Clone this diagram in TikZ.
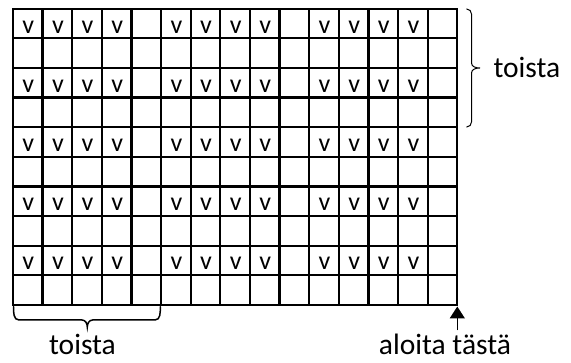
\documentclass[tikz,border=0pt]{standalone}
\usepackage{fontspec}
\setmainfont{Carlito}
\usetikzlibrary{arrows.meta}

\begin{document}
\begin{tikzpicture}[x=1pt,y=-1pt,
  gridline/.style={line width=2.3pt},
  vcell/.style={anchor=base,inner sep=0pt,font=\fontsize{26}{26}\selectfont},
  lbl/.style={anchor=base,font=\fontsize{29.5}{30}\selectfont},
  bracket/.style={line width=1.5pt,line cap=round}]
  \useasboundingbox (0,0) rectangle (571,363);
  \def\cw{29.62}
  % ruudukko 15 x 10
  \draw[gridline] (13,8.7) rectangle (457.3,305);
  \foreach \i in {1,...,14}
    \draw[gridline] (13+\i*\cw,8.7) -- (13+\i*\cw,305);
  \foreach \j in {1,...,9}
    \draw[gridline] (13,8.7+\j*\cw) -- (457.3,8.7+\j*\cw);
  % silmukat
  \foreach \r in {0,2,...,8}
    \foreach \c in {0,1,2,3,5,6,7,8,10,11,12,13}
      \node[vcell] (v\r-\c) at (13.5+\c*\cw+\cw/2, 8.7+\r*\cw+\cw/2+9.5) {v};
  % sulkeet
  \draw[bracket,line width=1pt] (466.7,9) to[out=0,in=90] (471.5,14) -- (471.5,63)
    to[out=-90,in=180] (480,68) to[out=180,in=90] (471.5,73) -- (471.5,122)
    to[out=-90,in=0] (466.7,127);
  \draw[bracket] (13.5,306.7) to[out=-90,in=180] (19,320) -- (82,320)
    to[out=0,in=90] (87.3,327) to[out=90,in=180] (92.6,320) -- (155,320)
    to[out=0,in=-90] (160.3,306.7);
  \node[lbl,anchor=base west] (toistaR) at (490,77.3) {toista};
  \node[lbl] (toistaB) at (82.5,355) {toista};
  % aloituskohta
  \coordinate (start) at (457.3,306.5);
  \node[lbl] (aloita) at (445,354.3) {aloita tästä};
  \draw[line width=1.6pt,-{Triangle[length=12pt,width=15pt]}] (aloita.north -| start) -- (start);
\end{tikzpicture}
\end{document}
